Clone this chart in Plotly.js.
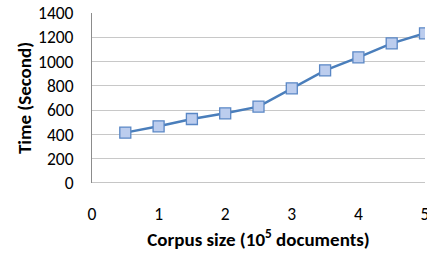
<!DOCTYPE html>
<html><head><meta charset="utf-8">
<script src="https://cdn.plot.ly/plotly-3.0.1.min.js"></script>
<style>html,body{margin:0;padding:0;background:#fff}#c{width:427px;height:257px}</style>
</head><body><div id="c"></div>
<script>
const corpusSize = [0.5, 1, 1.5, 2, 2.5, 3, 3.5, 4, 4.5, 5];
const timeSeconds = [415, 467, 527, 574, 629, 780, 928, 1035, 1150, 1233];
const xTicks = [0, 1, 2, 3, 4, 5];
const yTicks = [0, 200, 400, 600, 800, 1000, 1200, 1400];

const font = "Carlito, Calibri, 'Open Sans', 'Liberation Sans', sans-serif";
Plotly.newPlot('c', [{
  x: corpusSize, y: timeSeconds, type: 'scatter', mode: 'lines+markers',
  line: {color: '#4a7ebb', width: 2.5},
  marker: {symbol: 'square', size: 11, color: '#bccdee', line: {color: '#5a87c5', width: 1.3}}
}], {
  width: 427, height: 257,
  margin: {l: 92, r: 2, t: 13, b: 74},
  paper_bgcolor: '#fff', plot_bgcolor: '#fff',
  showlegend: false,
  font: {family: font, size: 17.5, color: '#000'},
  xaxis: {range: [0, 5], tickvals: xTicks, ticktext: xTicks.map(String), showgrid: false,
    zeroline: false, showline: false, ticks: '', ticklabelstandoff: 18, ticklabeloverflow: 'allow',
    title: {text: '<b>Corpus size (10<sup>5</sup> documents)</b>', font: {size: 19}, standoff: 9}},
  yaxis: {range: [0, 1400], tickvals: yTicks, showgrid: true, gridcolor: '#c8c8c8', gridwidth: 1,
    zeroline: false, showline: true, linecolor: '#8c8c8c', linewidth: 1, ticks: '', ticklabelstandoff: 14,
    title: {text: '<b>Time (Second)</b>', font: {size: 19}, standoff: 1}},
  shapes: [{type: 'line', xref: 'paper', yref: 'y', x0: 0, x1: 1, y0: 0, y1: 0, line: {color: '#8c8c8c', width: 1}}]
}, {staticPlot: true});
</script></body></html>
